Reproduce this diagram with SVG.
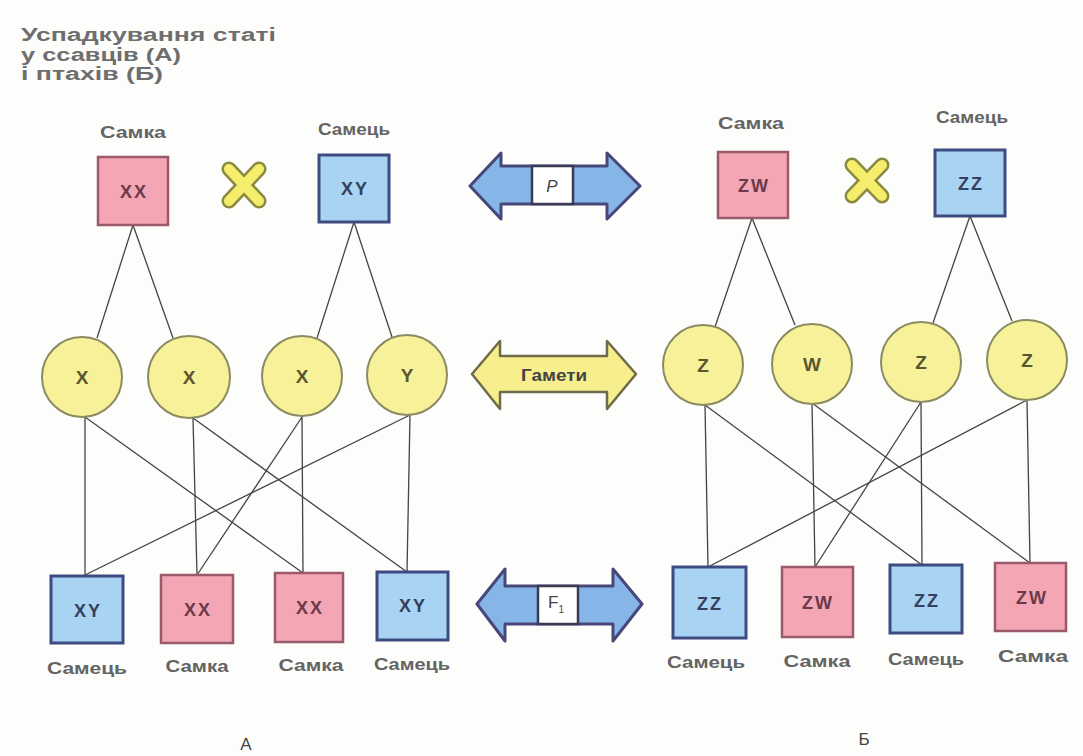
<svg xmlns="http://www.w3.org/2000/svg" width="1083" height="756" viewBox="0 0 1083 756">
<defs>
<style>
.bg{fill:#fdfdfb}
.title{font-family:"Liberation Sans",Arial,sans-serif;font-weight:bold;font-size:18px;fill:#6e6e6e}
.lbl{font-family:"Liberation Sans",Arial,sans-serif;font-weight:bold;font-size:16px;fill:#646464;text-anchor:middle}
.f{fill:#f4a6b4;stroke:#9a5a6c;stroke-width:2.5}
.m{fill:#a9d3f2;stroke:#3e4a82;stroke-width:3}
.g{fill:#f7f29a;stroke:#8c8a60;stroke-width:2}
.bt{font-family:"Liberation Sans",Arial,sans-serif;font-weight:bold;font-size:18px;letter-spacing:2px;text-anchor:middle}
.gl{font-family:"Liberation Sans",Arial,sans-serif;font-weight:bold;font-size:19px;text-anchor:middle}
.ft{fill:#6a3a4c}
.mt{fill:#34405e}
.gt{fill:#5a5630}
.ln{stroke:#444;stroke-width:1.3;fill:none}
.arB{fill:#86b6e8;stroke:#47477a;stroke-width:3;stroke-linejoin:round}
.arY{fill:#f7ef8e;stroke:#6e6a4a;stroke-width:2.5;stroke-linejoin:round}
.wb{fill:#ffffff;stroke:#3a3a55;stroke-width:2.5}
.xo{stroke:#8a8a40;stroke-width:15;stroke-linecap:round}
.xi{stroke:#f4ee6c;stroke-width:10;stroke-linecap:round}
.at{font-family:"Liberation Sans",Arial,sans-serif;font-size:17px;fill:#444;text-anchor:middle}
</style>
</defs>
<rect class="bg" x="0" y="0" width="1083" height="756"/>

<g id="title">
<text class="title" x="21" y="41" textLength="255" lengthAdjust="spacingAndGlyphs">Успадкування статі</text>
<text class="title" x="21" y="61" textLength="160" lengthAdjust="spacingAndGlyphs">у ссавців (А)</text>
<text class="title" x="21" y="80" textLength="142" lengthAdjust="spacingAndGlyphs">і птахів (Б)</text>
</g>

<g id="connectors">
<line class="ln" x1="133" y1="225" x2="97" y2="338"/>
<line class="ln" x1="133" y1="225" x2="173" y2="338"/>
<line class="ln" x1="354" y1="222" x2="317" y2="338"/>
<line class="ln" x1="354" y1="222" x2="392" y2="337"/>
<line class="ln" x1="85" y1="417" x2="85" y2="575"/>
<line class="ln" x1="85" y1="417" x2="303" y2="573"/>
<line class="ln" x1="193" y1="418" x2="197" y2="575"/>
<line class="ln" x1="193" y1="418" x2="407" y2="572"/>
<line class="ln" x1="302" y1="417" x2="197" y2="575"/>
<line class="ln" x1="302" y1="417" x2="303" y2="573"/>
<line class="ln" x1="410" y1="415" x2="407" y2="572"/>
<line class="ln" x1="410" y1="415" x2="85" y2="575"/>
<line class="ln" x1="752" y1="218" x2="715" y2="327"/>
<line class="ln" x1="752" y1="218" x2="795" y2="325"/>
<line class="ln" x1="970" y1="216" x2="933" y2="323"/>
<line class="ln" x1="970" y1="216" x2="1012" y2="321"/>
<line class="ln" x1="705" y1="405" x2="708" y2="567"/>
<line class="ln" x1="705" y1="405" x2="922" y2="565"/>
<line class="ln" x1="812" y1="403" x2="815" y2="567"/>
<line class="ln" x1="812" y1="403" x2="1030" y2="563"/>
<line class="ln" x1="921" y1="402" x2="815" y2="567"/>
<line class="ln" x1="921" y1="402" x2="922" y2="565"/>
<line class="ln" x1="1027" y1="400" x2="708" y2="567"/>
<line class="ln" x1="1027" y1="400" x2="1030" y2="563"/>
</g>

<g id="A-label-female"><text class="lbl" x="133" y="138" textLength="66" lengthAdjust="spacingAndGlyphs">Самка</text></g>
<g id="A-label-male"><text class="lbl" x="354" y="135" textLength="72" lengthAdjust="spacingAndGlyphs">Самець</text></g>
<g id="A-P-XX"><rect class="f" x="98" y="157" width="70" height="68"/><text class="bt ft" x="134" y="198">XX</text></g>
<g id="A-cross"><line class="xo" x1="229" y1="169" x2="259" y2="201"/><line class="xo" x1="259" y1="169" x2="229" y2="201"/><line class="xi" x1="229" y1="169" x2="259" y2="201"/><line class="xi" x1="259" y1="169" x2="229" y2="201"/></g>
<g id="A-P-XY"><rect class="m" x="319" y="155" width="70" height="67"/><text class="bt mt" x="355" y="195">XY</text></g>

<g id="arrow-P">
<path class="arB" d="M470,186 L501,153 L501,166 L607,166 L607,153 L640,186 L607,219 L607,204 L501,204 L501,219 Z"/>
<rect class="wb" x="532" y="166" width="41" height="38"/>
<text class="at" x="552" y="192" font-style="italic">P</text>
</g>
<g id="arrow-gametes">
<path class="arY" d="M472,374 L500,341 L500,356 L607,356 L607,341 L636,374 L607,409 L607,392 L500,392 L500,409 Z"/>
<text class="at" x="554" y="381" font-weight="bold" fill="#5a5630" textLength="66" lengthAdjust="spacingAndGlyphs">Гамети</text>
</g>
<g id="arrow-F1">
<path class="arB" d="M477,604 L505,569 L505,586 L613,586 L613,569 L642,604 L613,641 L613,624 L505,624 L505,641 Z"/>
<rect class="wb" x="538" y="586" width="40" height="38"/>
<text class="at" x="556" y="608">F<tspan font-size="10" dy="5">1</tspan></text>
</g>

<g id="A-g1"><circle class="g" cx="82" cy="377" r="40"/><text class="gl gt" x="82" y="384">X</text></g>
<g id="A-g2"><circle class="g" cx="189" cy="377" r="41"/><text class="gl gt" x="189" y="384">X</text></g>
<g id="A-g3"><circle class="g" cx="302" cy="376" r="40"/><text class="gl gt" x="302" y="383">X</text></g>
<g id="A-g4"><circle class="g" cx="407" cy="375" r="40"/><text class="gl gt" x="407" y="382">Y</text></g>

<g id="A-F1-1"><rect class="m" x="51" y="576" width="72" height="67"/><text class="bt mt" x="88" y="617">XY</text><text class="lbl" x="87" y="674" textLength="80" lengthAdjust="spacingAndGlyphs">Самець</text></g>
<g id="A-F1-2"><rect class="f" x="161" y="575" width="72" height="68"/><text class="bt ft" x="198" y="616">XX</text><text class="lbl" x="197" y="672" textLength="63" lengthAdjust="spacingAndGlyphs">Самка</text></g>
<g id="A-F1-3"><rect class="f" x="275" y="573" width="68" height="69"/><text class="bt ft" x="310" y="614">XX</text><text class="lbl" x="311" y="671" textLength="65" lengthAdjust="spacingAndGlyphs">Самка</text></g>
<g id="A-F1-4"><rect class="m" x="377" y="572" width="71" height="68"/><text class="bt mt" x="413" y="612">XY</text><text class="lbl" x="412" y="670" textLength="76" lengthAdjust="spacingAndGlyphs">Самець</text></g>

<g id="B-label-female"><text class="lbl" x="751" y="129" textLength="66" lengthAdjust="spacingAndGlyphs">Самка</text></g>
<g id="B-label-male"><text class="lbl" x="972" y="123" textLength="72" lengthAdjust="spacingAndGlyphs">Самець</text></g>
<g id="B-P-ZW"><rect class="f" x="718" y="152" width="70" height="66"/><text class="bt ft" x="754" y="192">ZW</text></g>
<g id="B-cross"><line class="xo" x1="852" y1="165" x2="882" y2="196"/><line class="xo" x1="882" y1="165" x2="852" y2="196"/><line class="xi" x1="852" y1="165" x2="882" y2="196"/><line class="xi" x1="882" y1="165" x2="852" y2="196"/></g>
<g id="B-P-ZZ"><rect class="m" x="935" y="150" width="70" height="66"/><text class="bt mt" x="971" y="190">ZZ</text></g>

<g id="B-g1"><circle class="g" cx="703" cy="365" r="40"/><text class="gl gt" x="703" y="372">Z</text></g>
<g id="B-g2"><circle class="g" cx="812" cy="364" r="40"/><text class="gl gt" x="812" y="371">W</text></g>
<g id="B-g3"><circle class="g" cx="921" cy="362" r="40"/><text class="gl gt" x="921" y="369">Z</text></g>
<g id="B-g4"><circle class="g" cx="1027" cy="360" r="40"/><text class="gl gt" x="1027" y="367">Z</text></g>

<g id="B-F1-1"><rect class="m" x="673" y="567" width="73" height="71"/><text class="bt mt" x="710" y="610">ZZ</text><text class="lbl" x="706" y="668" textLength="78" lengthAdjust="spacingAndGlyphs">Самець</text></g>
<g id="B-F1-2"><rect class="f" x="782" y="567" width="71" height="70"/><text class="bt ft" x="818" y="609">ZW</text><text class="lbl" x="817" y="667" textLength="67" lengthAdjust="spacingAndGlyphs">Самка</text></g>
<g id="B-F1-3"><rect class="m" x="890" y="565" width="72" height="68"/><text class="bt mt" x="927" y="607">ZZ</text><text class="lbl" x="926" y="665" textLength="76" lengthAdjust="spacingAndGlyphs">Самець</text></g>
<g id="B-F1-4"><rect class="f" x="995" y="563" width="71" height="68"/><text class="bt ft" x="1032" y="604">ZW</text><text class="lbl" x="1033" y="662" textLength="70" lengthAdjust="spacingAndGlyphs">Самка</text></g>

<g id="section-labels">
<text class="at" x="246" y="750" font-size="16">А</text>
<text class="at" x="864" y="745" font-size="16">Б</text>
</g>
</svg>
